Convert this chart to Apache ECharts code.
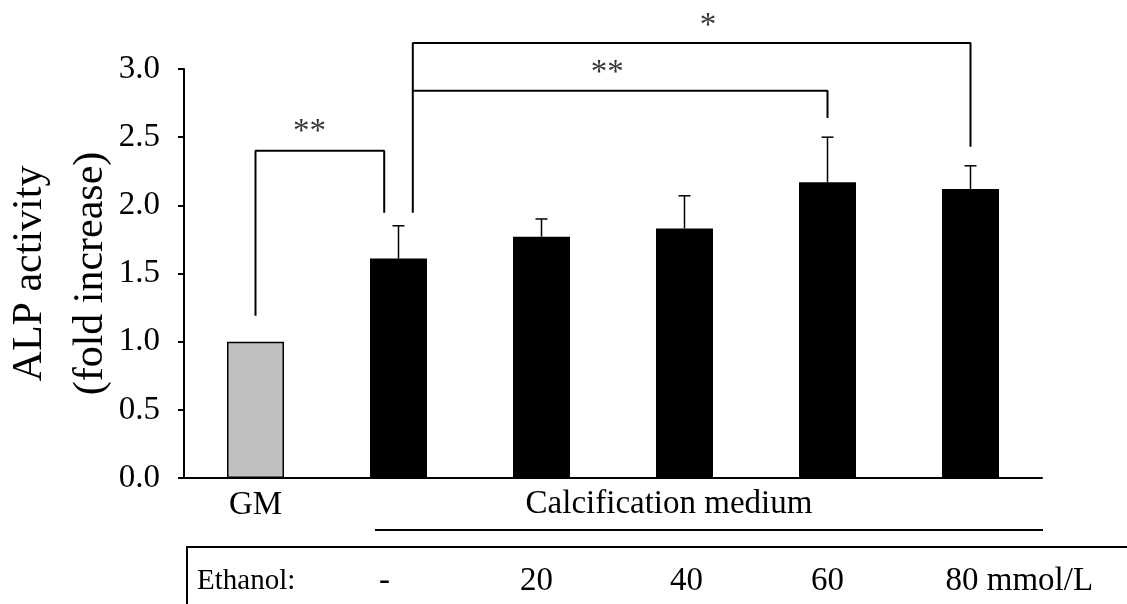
<!DOCTYPE html>
<html>
<head>
<meta charset="utf-8">
<script src="https://cdn.jsdelivr.net/npm/echarts@6/dist/echarts.min.js"></script>
<style>
  html, body { margin: 0; padding: 0; background: #fff; }
  #chart { width: 1127px; height: 604px; }
</style>
</head>
<body>
<div id="chart"></div>
<script>
// ---- data ----
const categories = ['GM', 'CM', 'CM + EtOH 20', 'CM + EtOH 40', 'CM + EtOH 60', 'CM + EtOH 80'];
const alpValues = [1.00, 1.61, 1.77, 1.83, 2.17, 2.12];
const alpErrors = [0.00, 0.24, 0.13, 0.24, 0.33, 0.17];
const yTickValues = [0, 0.5, 1.0, 1.5, 2.0, 2.5, 3.0];
const doseLabels = ['-', '20', '40', '60', '80 mmol/L'];
const groupLabel = 'Calcification medium';
const rowLabel = 'Ethanol:';
// significance brackets (x in category units, y in fold increase)
const bracketGM = [[0, 1.19], [0, 2.40], [0.9, 2.40], [0.9, 1.945]];
const bracketCM80 = [[1.1, 1.945], [1.1, 3.19], [5, 3.19], [5, 2.43]];
const bracketCM60 = [[1.1, 2.84], [4, 2.84], [4, 2.64]];
const starMarks = [
  { name: '**', value: [0.378, 2.59] },
  { name: '**', value: [2.46, 3.02] },
  { name: '*', value: [3.165, 3.365] }
];

const FONT = '"Liberation Serif", "Times New Roman", serif';
const chart = echarts.init(document.getElementById('chart'), null, { renderer: 'canvas' });

const bracketLine = (data) => ({
  type: 'line', xAxisIndex: 1, yAxisIndex: 0, data: data,
  symbol: 'none', clip: false, silent: true, z: 6,
  lineStyle: { color: '#000', width: 2 }, animation: false
});

const option = {
  animation: false,
  backgroundColor: '#fff',
  grid: { left: 184, right: 85, top: 69, bottom: 126, containLabel: false, outerBoundsMode: 'none' },
  xAxis: [
    {
      type: 'category', data: categories, boundaryGap: true,
      axisLine: { onZero: false, lineStyle: { color: '#000', width: 2 } },
      axisTick: { show: false },
      axisLabel: {
        interval: 0, margin: 11, fontSize: 33, fontFamily: FONT, color: '#000',
        formatter: (v, i) => (i === 0 ? v : '')
      },
      splitLine: { show: false }
    },
    { type: 'value', min: -0.5, max: 5.5, show: false, axisLine: { onZero: false } }
  ],
  yAxis: {
    type: 'value', min: 0, max: 3, interval: 0.5,
    name: 'ALP activity\n(fold increase)',
    nameLocation: 'middle', nameRotate: 90, nameGap: 63, nameMoveOverlap: false,
    nameTextStyle: { fontSize: 42, lineHeight: 61, fontFamily: FONT, color: '#000' },
    axisLine: { show: true, onZero: false, lineStyle: { color: '#000', width: 2 } },
    axisTick: { show: true, inside: false, length: 6, lineStyle: { color: '#000', width: 2 } },
    axisLabel: {
      margin: 24, fontSize: 33, fontFamily: FONT, color: '#000',
      formatter: (v) => (yTickValues.indexOf(v) >= 0 ? v.toFixed(1) : '')
    },
    splitLine: { show: false }
  },
  series: [
    {
      type: 'bar', barWidth: 57, z: 2,
      data: alpValues.map((v, i) => ({
        value: v,
        itemStyle: i === 0
          ? { color: '#c0c0c0', borderColor: '#000', borderWidth: 1.5 }
          : { color: '#000' }
      }))
    },
    {
      type: 'custom', xAxisIndex: 0, yAxisIndex: 0, z: 5, silent: true,
      data: alpValues.map((v, i) => [i, v, v + alpErrors[i]]),
      encode: { x: 0, y: [1, 2] },
      renderItem: (params, api) => {
        const lo = api.coord([api.value(0), api.value(1)]);
        const hi = api.coord([api.value(0), api.value(2)]);
        if (Math.abs(hi[1] - lo[1]) < 0.5) return { type: 'group', children: [] };
        return {
          type: 'group',
          children: [
            { type: 'line', shape: { x1: lo[0], y1: lo[1], x2: hi[0], y2: hi[1] },
              style: { stroke: '#000', lineWidth: 1.5 } },
            { type: 'line', shape: { x1: hi[0] - 6, y1: hi[1], x2: hi[0] + 6, y2: hi[1] },
              style: { stroke: '#000', lineWidth: 1.5 } }
          ]
        };
      }
    },
    bracketLine(bracketGM),
    bracketLine(bracketCM80),
    bracketLine(bracketCM60),
    {
      type: 'scatter', xAxisIndex: 1, yAxisIndex: 0, symbolSize: 0, clip: false,
      silent: true, z: 7, data: starMarks,
      label: {
        show: true, position: 'inside', offset: [0, 7],
        formatter: (p) => p.name, fontSize: 33, fontFamily: FONT, color: '#000'
      }
    }
  ]
};
chart.setOption(option);

// ---- lower table (layout decoration), aligned on the category axis ----
const cx = (i) => chart.convertToPixel({ xAxisIndex: 0 }, categories[i]);
const doseOffsets = [-14, -5, 2, 0, -25];
const graphics = [
  { type: 'text', x: (cx(3) + cx(2)) / 2 + 56, y: 504,
    style: { text: groupLabel, font: '33px ' + FONT, fill: '#000', textAlign: 'center', textVerticalAlign: 'middle' } },
  { type: 'line', shape: { x1: 375, y1: 530, x2: 1043, y2: 530 }, style: { stroke: '#000', lineWidth: 2 } },
  { type: 'polyline', shape: { points: [[1130, 547], [187, 547], [187, 610]] },
    style: { stroke: '#000', lineWidth: 2, fill: null } },
  { type: 'text', x: 197, y: 581,
    style: { text: rowLabel, font: '29px ' + FONT, fill: '#000', textAlign: 'left', textVerticalAlign: 'middle' } }
];
doseLabels.forEach((t, k) => {
  const last = k === doseLabels.length - 1;
  graphics.push({
    type: 'text', x: cx(k + 1) + doseOffsets[k], y: 581,
    style: { text: t, font: '33px ' + FONT, fill: '#000',
      textAlign: last ? 'left' : 'center', textVerticalAlign: 'middle' }
  });
});
chart.setOption({ graphic: graphics });
</script>
</body>
</html>
